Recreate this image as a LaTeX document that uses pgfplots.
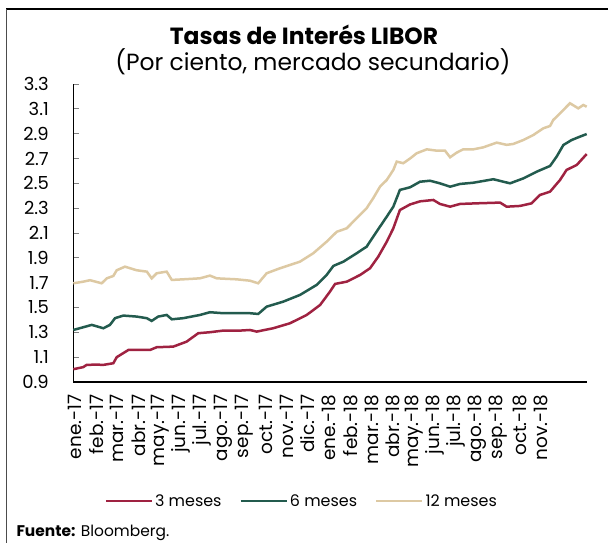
\documentclass[border=0pt]{standalone}
\usepackage{pgfplots}
\pgfplotsset{compat=1.18}
\usepackage{pgfplotstable}
\usepackage{fontspec}
\setmainfont{Poppins}
\definecolor{guinda}{HTML}{9F2241}
\definecolor{verde}{HTML}{235B4E}
\definecolor{dorado}{HTML}{DDC9A3}

\pgfplotstableread{
x y
-0.08 1.003
0.39 1.020
0.55 1.038
1.00 1.040
1.34 1.038
1.81 1.051
1.97 1.100
2.52 1.158
3.00 1.158
3.54 1.158
3.86 1.180
4.64 1.185
5.27 1.225
5.82 1.293
6.37 1.301
7.00 1.314
7.79 1.314
8.26 1.319
8.58 1.306
9.36 1.333
10.15 1.373
10.94 1.440
11.57 1.520
12.04 1.628
12.28 1.690
12.83 1.708
13.46 1.762
13.93 1.816
14.32 1.910
14.72 2.030
15.03 2.138
15.34 2.285
15.82 2.330
16.29 2.355
16.92 2.366
17.23 2.334
17.71 2.312
18.18 2.334
18.97 2.339
20.07 2.345
20.38 2.312
21.01 2.318
21.56 2.339
21.95 2.406
22.43 2.433
22.90 2.527
23.21 2.608
23.69 2.648
24.16 2.736
}\tresm

\pgfplotstableread{
x y
-0.08 1.319
0.39 1.341
0.79 1.360
1.34 1.333
1.65 1.360
1.89 1.414
2.28 1.435
2.91 1.427
3.39 1.414
3.62 1.392
3.93 1.427
4.33 1.440
4.57 1.405
5.11 1.414
5.90 1.440
6.37 1.462
7.00 1.454
8.26 1.454
8.65 1.448
9.05 1.507
9.83 1.547
10.62 1.601
11.41 1.682
11.88 1.762
12.20 1.835
12.67 1.869
13.30 1.937
13.77 1.990
14.24 2.111
14.72 2.232
15.03 2.312
15.34 2.447
15.82 2.468
16.29 2.513
16.76 2.521
17.23 2.500
17.71 2.473
18.18 2.495
18.81 2.505
19.75 2.533
20.54 2.500
21.17 2.540
21.80 2.594
22.43 2.640
22.74 2.715
23.06 2.809
23.45 2.849
23.84 2.876
24.16 2.897
}\seism

\pgfplotstableread{
x y
-0.08 1.695
0.39 1.708
0.71 1.720
1.26 1.695
1.50 1.735
1.81 1.754
1.97 1.800
2.36 1.829
2.91 1.800
3.39 1.789
3.62 1.735
3.86 1.776
4.33 1.789
4.57 1.722
5.11 1.727
5.90 1.735
6.37 1.757
6.69 1.735
7.63 1.727
8.26 1.716
8.65 1.695
9.05 1.776
9.68 1.816
10.62 1.869
11.25 1.937
11.88 2.030
12.36 2.110
12.83 2.138
13.30 2.219
13.77 2.300
14.08 2.380
14.40 2.473
14.72 2.527
15.03 2.608
15.19 2.675
15.50 2.662
15.82 2.700
16.13 2.742
16.61 2.774
17.08 2.763
17.47 2.763
17.71 2.710
18.02 2.747
18.33 2.774
18.81 2.774
19.28 2.790
19.91 2.828
20.38 2.810
20.69 2.817
21.17 2.849
21.64 2.889
22.11 2.943
22.43 2.962
22.58 3.010
22.90 3.064
23.37 3.145
23.76 3.104
24.00 3.131
24.16 3.117
}\docem

\begin{document}
\begin{tikzpicture}
\begin{axis}[
  at={(73.3bp,-84bp)}, anchor=north west,
  scale only axis, width=513.4bp, height=298bp,
  xmin=-0.08, xmax=24.16, ymin=0.9, ymax=3.3,
  axis x line=bottom, axis y line=left,
  axis line style={-},
  x axis line style={line width=2.6bp},
  y axis line style={line width=1.2bp},
  xtick={0,...,22},
  xticklabels={ene.-17,feb.-17,mar.-17,abr.-17,may.-17,jun.-17,jul.-17,ago.-17,sep.-17,oct.-17,nov.-17,dic.-17,ene.-18,feb.-18,mar.-18,abr.-18,may.-18,jun.-18,jul.-18,ago.-18,sep.-18,oct.-18,nov.-18},
  xtick style={draw=none},
  xticklabel style={rotate=90, anchor=east, font=\fontsize{18.5}{20}\selectfont, xshift=-9bp},
  ytick={0.9,1.1,...,3.31},
  yticklabel style={/pgf/number format/.cd, fixed, fixed zerofill, precision=1, assume math mode=true, /tikz/.cd, font=\fontsize{18}{20}\selectfont, xshift=-21bp},
  ytick style={gray, line width=0.8bp},
  tick align=inside, major tick length=6bp,
  clip=false,
  legend columns=3,
  legend style={at={(axis description cs:0.445,-0.40)}, anchor=center, draw=none, fill=none, font=\fontsize{16}{18}\selectfont, inner sep=0pt,
    /tikz/every even column/.append style={column sep=16bp}},
  legend image code/.code={\draw[#1, line width=2.4bp] (0bp,0bp) -- (46bp,0bp);},
]
\addplot[guinda, line width=2.5bp] table[x=x,y=y] {\tresm};
\addlegendentry{3 meses}
\addplot[verde, line width=2.5bp] table[x=x,y=y] {\seism};
\addlegendentry{6 meses}
\addplot[dorado, line width=2.5bp] table[x=x,y=y] {\docem};
\addlegendentry{12 meses}
\end{axis}
\node[anchor=base, font=\fontsize{23.5}{26}\selectfont\bfseries] at (304bp,-44bp) {Tasas de Interés LIBOR};
\node[anchor=base, font=\fontsize{23.5}{26}\selectfont] at (313bp,-70bp) {(Por ciento, mercado secundario)};
\node[anchor=base west, font=\fontsize{15.5}{18}\selectfont] at (13bp,-536bp) {\textbf{Fuente:} Bloomberg.};
\draw[black, line width=1.2bp] (6bp,-9bp) -- (608bp,-9bp);
\draw[black!70, line width=1.2bp] (6.5bp,-9bp) -- (6.5bp,-543bp);
\pgfresetboundingbox
\useasboundingbox (0,0) rectangle (608bp,-543bp);
\end{tikzpicture}
\end{document}
